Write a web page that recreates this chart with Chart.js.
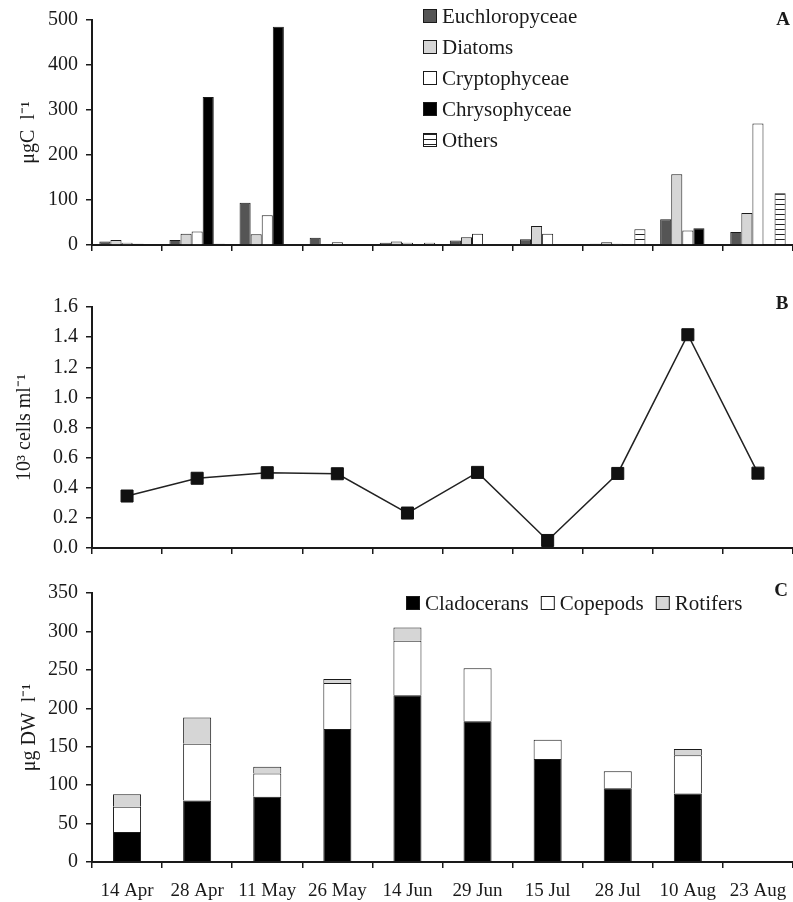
<!DOCTYPE html>
<html>
<head>
<meta charset="utf-8">
<script src="https://cdn.jsdelivr.net/npm/chart.js@4.4.0/dist/chart.umd.min.js"></script>
<style>
  html, body { margin: 0; padding: 0; background: #fff; }
  canvas { display: block; }
</style>
</head>
<body>
<canvas id="chart-a" width="793" height="265"></canvas>
<canvas id="chart-b" width="793" height="303"></canvas>
<canvas id="chart-c" width="793" height="334"></canvas>
<script>
// sampling dates (shared by all three panels)
const dates = ['14 Apr', '28 Apr', '11 May', '26 May', '14 Jun', '29 Jun', '15 Jul', '28 Jul', '10 Aug', '23 Aug'];

// A: phytoplankton biomass, µgC l-1
const euchloropyceae = [8, 11, 94, 16, 5, 10, 13, 3, 57, 29];
const diatoms = [11, 25, 24, 2, 8, 17, 42, 6, 157, 71];
const cryptophyceae = [5, 30, 66, 6, 5, 25, 25, 3, 32, 270];
const chrysophyceae = [3, 329, 485, 0, 0, 0, 0, 0, 37, 0];
const others = [0, 3, 0, 0, 5, 0, 0, 35, 0, 115];

// B: cell density, 10^3 cells ml-1
const cells = [0.345, 0.463, 0.50, 0.493, 0.232, 0.502, 0.05, 0.495, 1.416, 0.497];

// C: zooplankton biomass, µg DW l-1
const cladocerans = [39, 80, 85, 173, 217, 183, 134, 96, 89, 0];
const copepods = [33, 74, 30, 60, 71, 69, 25, 22, 50, 0];
const rotifers = [16, 34, 9, 5, 17, 0, 0, 0, 8, 0];

const serif = "'Liberation Serif', 'Times New Roman', serif";
const ink = '#1a1a1a';

// horizontal hatching for "Others"
function stripes() {
    const c = document.createElement('canvas');
    c.width = 8;
    c.height = 5;
    const g = c.getContext('2d');
    g.fillStyle = '#fff';
    g.fillRect(0, 0, 8, 5);
    g.fillStyle = '#222';
    g.fillRect(0, 4, 8, 1);
    return g.createPattern(c, 'repeat');
}

function yAxis(max, step, title, titleTop, fmt) {
    return {
        min: 0,
        max: max,
        ticks: { stepSize: step, color: ink, font: { family: serif, size: 20 }, padding: 8, callback: fmt },
        grid: { drawOnChartArea: false, color: ink, tickLength: 6, lineWidth: 1.5 },
        border: { color: ink, width: 2 },
        title: { display: true, text: title, color: ink, font: { family: serif, size: 20 }, padding: { top: titleTop, bottom: 0 } },
        afterFit: (scale) => { scale.width = 92; },
    };
}

function xAxis(showLabels, height) {
    return {
        offset: true,
        ticks: { display: showLabels, color: ink, font: { family: serif, size: 19 }, padding: 12, maxRotation: 0, autoSkip: false },
        grid: { offset: true, drawOnChartArea: false, color: ink, tickLength: 6, lineWidth: 1.5 },
        border: { color: ink, width: 2 },
        afterFit: (scale) => {
            scale.height = height;
            scale.paddingLeft = 0;
            scale.paddingRight = 0;
        },
    };
}

// panel letter + legend drawn inside the plot area
const panelDecor = {
    id: 'panelDecor',
    afterDraw(chart, args, opts) {
        const ctx = chart.ctx;
        ctx.save();
        ctx.fillStyle = ink;
        ctx.font = 'bold 19px ' + serif;
        ctx.textAlign = 'center';
        ctx.textBaseline = 'middle';
        ctx.fillText(opts.letter, opts.letterX, opts.letterY);

        if (opts.legend) {
            ctx.font = '21px ' + serif;
            ctx.textAlign = 'left';
            let x = opts.legend.x;
            let y = opts.legend.y;
            chart.data.datasets.forEach((ds) => {
                ctx.fillStyle = ds.backgroundColor;
                ctx.fillRect(x, y - 7, 14, 14);
                ctx.strokeStyle = ink;
                ctx.lineWidth = 1;
                ctx.strokeRect(x + 0.5, y - 6.5, 13, 13);
                ctx.fillStyle = ink;
                ctx.fillText(ds.label, x + 19, y + 1);
                if (opts.legend.vertical) {
                    y += opts.legend.gap;
                } else {
                    x += 19 + ctx.measureText(ds.label).width + 12;
                }
            });
        }
        ctx.restore();
    },
};

const common = {
    responsive: false,
    animation: false,
    events: [],
};

function bar(label, data, color) {
    return { label: label, data: data, backgroundColor: color, borderColor: ink, borderWidth: 1 };
}

new Chart(document.getElementById('chart-a'), {
    type: 'bar',
    data: {
        labels: dates,
        datasets: [
            bar('Euchloropyceae', euchloropyceae, '#555555'),
            bar('Diatoms', diatoms, '#d6d6d6'),
            bar('Cryptophyceae', cryptophyceae, '#ffffff'),
            bar('Chrysophyceae', chrysophyceae, '#000000'),
            bar('Others', others, stripes()),
        ],
    },
    options: {
        ...common,
        layout: { autoPadding: false, padding: { top: 17, bottom: 0, left: 0, right: 0 } },
        datasets: { bar: { categoryPercentage: 0.79, barPercentage: 1.0 } },
        scales: {
            x: xAxis(false, 12),
            y: yAxis(500, 100, 'μgC  l⁻¹', 17),
        },
        plugins: {
            legend: { display: false },
            tooltip: { enabled: false },
            panelDecor: { letter: 'A', letterX: 783, letterY: 20, legend: { x: 423, y: 16, vertical: true, gap: 31 } },
        },
    },
    plugins: [panelDecor],
});

new Chart(document.getElementById('chart-b'), {
    type: 'line',
    data: {
        labels: dates,
        datasets: [{
            label: 'cells',
            data: cells,
            borderColor: '#222',
            borderWidth: 1.5,
            pointStyle: 'rect',
            pointRadius: 8.5,
            pointBackgroundColor: '#111',
            pointBorderColor: '#111',
            pointBorderWidth: 1,
            tension: 0,
            fill: false,
        }],
    },
    options: {
        ...common,
        layout: { autoPadding: false, padding: { top: 42, bottom: 0, left: 0, right: 0 } },
        scales: {
            x: xAxis(false, 12),
            y: yAxis(1.6, 0.2, '10³ cells ml⁻¹', 13, (v) => Number(v).toFixed(1)),
        },
        plugins: {
            legend: { display: false },
            tooltip: { enabled: false },
            panelDecor: { letter: 'B', letterX: 782, letterY: 39 },
        },
    },
    plugins: [panelDecor],
});

const xC = xAxis(true, 40);
xC.stacked = true;
const yC = yAxis(350, 50, 'μg DW  l⁻¹', 18);
yC.stacked = true;

new Chart(document.getElementById('chart-c'), {
    type: 'bar',
    data: {
        labels: dates,
        datasets: [
            bar('Cladocerans', cladocerans, '#000000'),
            bar('Copepods', copepods, '#ffffff'),
            bar('Rotifers', rotifers, '#d6d6d6'),
        ],
    },
    options: {
        ...common,
        layout: { autoPadding: false, padding: { top: 25, bottom: 0, left: 0, right: 0 } },
        datasets: { bar: { categoryPercentage: 1.0, barPercentage: 0.4 } },
        scales: { x: xC, y: yC },
        plugins: {
            legend: { display: false },
            tooltip: { enabled: false },
            panelDecor: { letter: 'C', letterX: 781, letterY: 23, legend: { x: 406, y: 35, vertical: false } },
        },
    },
    plugins: [panelDecor],
});
</script>
</body>
</html>
